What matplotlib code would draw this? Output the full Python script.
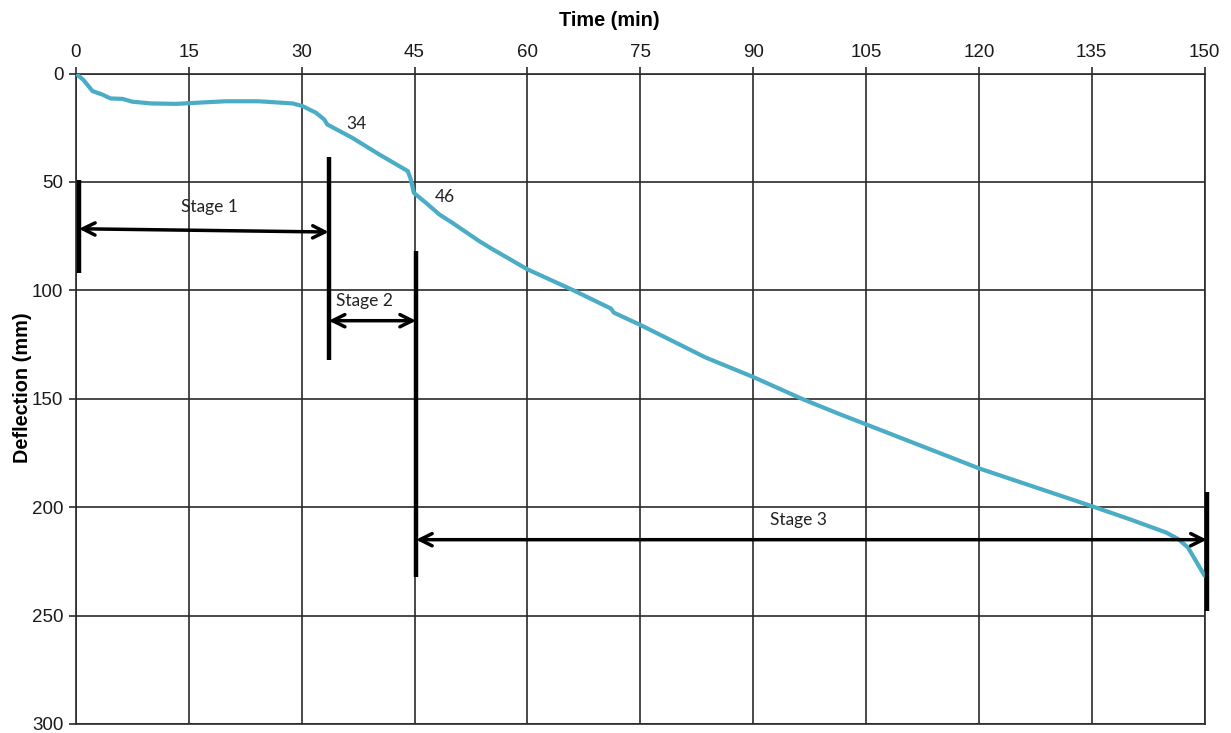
import matplotlib
matplotlib.use("Agg")
import matplotlib.pyplot as plt

# ---- data ----
time_min = [0, 1, 2.2, 3.5, 4.6, 6.2, 7.5, 10, 13.3, 16.5, 19.9, 24.3, 28.8, 30.1,
            31.9, 33, 33.4, 36.7, 40.3, 44.1, 44.5, 44.9, 46.5, 48.3, 50, 53.6, 55.4,
            60, 66, 71.1, 71.5, 75.1, 83.7, 89.9, 96.6, 101.5, 105, 120.1, 134.9,
            140, 144.9, 146.5, 147.8, 150]
deflection_mm = [0, 3, 8.1, 9.7, 11.5, 11.7, 13, 13.8, 14, 13.4, 12.8, 12.8, 13.8, 15,
                 18.1, 21.2, 23.5, 29.6, 37.3, 45, 48.8, 55, 59.6, 65, 68.8, 77.3, 81.1,
                 90.3, 99.8, 108.4, 110.3, 116.1, 131, 139.8, 150.2, 157.1, 161.8, 182.2,
                 199.4, 205.5, 211.7, 214.7, 218.6, 231.6]

x_ticks = [0, 15, 30, 45, 60, 75, 90, 105, 120, 135, 150]
y_ticks = [0, 50, 100, 150, 200, 250, 300]

# stage boundary bars: (time, top, bottom)
bars = [(0.4, 49, 92), (33.6, 38.5, 132), (45.2, 82, 232), (150.3, 193, 248)]
# stage arrows: (start, end, y_start, y_end)
stage_arrows = [(0.4, 33.6, 71.6, 73.1), (33.6, 45.2, 114, 114), (45.2, 150.3, 215, 215)]
stage_labels = ["Stage 1", "Stage 2", "Stage 3"]
stage_label_pos = [(17.7, 61.7), (38.3, 105), (96.1, 206)]
point_labels = ["34", "46"]
point_label_pos = [(36.0, 23.5), (47.7, 57)]

fig = plt.figure(figsize=(12.31, 7.33), dpi=100)
ax = fig.add_axes([0.0617, 0.0123, 0.9168, 0.8874])

ax.plot(time_min, deflection_mm, color="#4BACC6", lw=3.0, solid_capstyle="round",
        zorder=3)

for t, y0, y1 in bars:
    ax.plot([t, t], [y0, y1], color="black", lw=3.2, clip_on=False, zorder=4,
            solid_capstyle="butt")

for (x0, x1, y0, y1) in stage_arrows:
    ax.annotate("", xy=(x1, y1), xytext=(x0, y0),
                arrowprops=dict(arrowstyle="<->", color="black", lw=2.5,
                                mutation_scale=22, shrinkA=0, shrinkB=0),
                annotation_clip=False, zorder=5)

lab_font = ["Lato", "DejaVu Sans"]
for lab, (x, y) in zip(stage_labels, stage_label_pos):
    ax.text(x, y, lab, ha="center", va="center", fontsize=12.5, family=lab_font,
            color="#222222")
for lab, (x, y) in zip(point_labels, point_label_pos):
    ax.text(x, y, lab, ha="left", va="center", fontsize=12.5, family=lab_font,
            color="#222222")

ax.set_xlim(0, 150)
ax.set_ylim(300, 0)
ax.set_xticks(x_ticks)
ax.set_yticks(y_ticks)
ax.xaxis.tick_top()
ax.xaxis.set_label_position("top")
ax.grid(True, color="#2a2a2a", lw=1.2)
ax.set_axisbelow(True)
for s in ax.spines.values():
    s.set_color("#2a2a2a")
    s.set_linewidth(1.2)
ax.tick_params(axis="both", direction="out", length=5, width=1.2, color="#2a2a2a",
               labelsize=13.5, pad=4)
for lbl in ax.get_xticklabels() + ax.get_yticklabels():
    lbl.set_family("Liberation Sans")
    lbl.set_color("#1a1a1a")

ax.set_xlabel("Time (min)", fontsize=14.3, fontweight="bold", family="Liberation Sans")
ax.set_ylabel("Deflection (mm)", fontsize=14.3, fontweight="bold",
              family="Liberation Sans")
ax.xaxis.set_label_coords(0.473, 1.081)
ax.yaxis.set_label_coords(-0.0478, 0.517)
ax.xaxis.label.set_va("center")
ax.yaxis.label.set_va("center")

fig.savefig("out.png", dpi=100)
